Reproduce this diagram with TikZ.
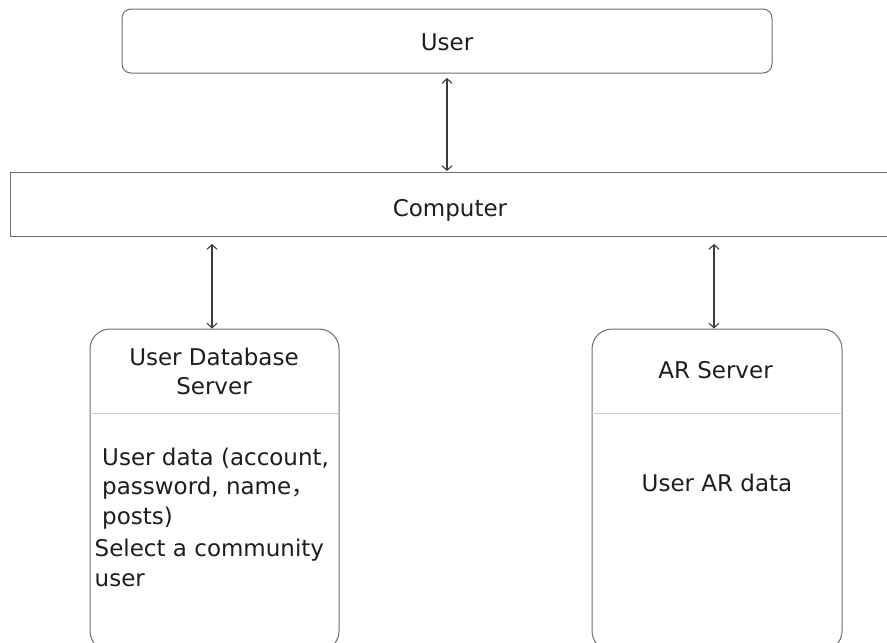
\documentclass[tikz,border=0pt]{standalone}
\usepackage{fontspec}
\setmainfont{DejaVu Sans}
\newfontfamily\cjk{Noto Sans CJK SC}
\usetikzlibrary{arrows.meta}
\definecolor{edgec}{HTML}{6E6E6E}
\definecolor{arrowc}{HTML}{3C3C3C}
\definecolor{divc}{HTML}{CFCFCF}
\definecolor{txtc}{HTML}{1E1E1E}
\begin{document}
\begin{tikzpicture}[x=1pt,y=-1pt,
  box/.style={draw=edgec, line width=1pt, fill=white, inner sep=0pt},
  lbl/.style={font=\fontsize{23}{30}\selectfont, text=txtc, inner sep=0pt, anchor=base},
  lblw/.style={lbl, anchor=base west},
  arr/.style={draw=arrowc, line width=1.1pt,
    {Straight Barb[length=4.5pt,width=10pt]}-{Straight Barb[length=4.5pt,width=10pt]}},
  divider/.style={draw=divc, line width=1pt}]
\useasboundingbox (0,0) rectangle (887,643);
\begin{scope}
\clip (0,0) rectangle (887,643);

% boxes
\node[box, rounded corners=9pt, minimum width=650pt, minimum height=64pt] (user) at (447,41) {};
\node[box, minimum width=880pt, minimum height=64pt] (computer) at (450,204) {};
\node[box, rounded corners=20pt, minimum width=249pt, minimum height=322pt] (db) at (214.5,490) {};
\node[box, rounded corners=20pt, minimum width=250pt, minimum height=322pt] (ar) at (717,490) {};

% compartment dividers
\coordinate (divy) at (0,413);
\draw[divider] ([xshift=0.5pt]db.west |- divy) -- ([xshift=-0.5pt]db.east |- divy);
\draw[divider] ([xshift=0.5pt]ar.west |- divy) -- ([xshift=-0.5pt]ar.east |- divy);

% labels
\node[lbl] (userlbl) at (447,50) {User};
\node[lbl] (complbl) at (450,216) {Computer};
\node[lbl] (dbt1) at (214,365) {User Database};
\node[lbl] (dbt2) at (214,394.5) {Server};
\node[lbl] (art) at (715.5,378) {AR Server};
\node[lbl] (arbody) at (717,491) {User AR data};

\node[lblw] (dbb1) at (102,465) {User data (account,};
\node[lblw] (dbb2) at (102,494.5) {password, name{\cjk ，}};
\node[lblw] (dbb3) at (102,524) {posts)};
\node[lblw] (dbb4) at (94.5,556) {Select a community};
\node[lblw] (dbb5) at (94.5,586) {user};

% connectors
\draw[arr, shorten <=4.5pt, shorten >=0.5pt] (user.south) -- (user.south |- computer.north);
\draw[arr, shorten <=7.5pt] ([xshift=-2.5pt]db.north |- computer.south) -- ([xshift=-2.5pt]db.north);
\draw[arr, shorten <=7.5pt] ([xshift=-3pt]ar.north |- computer.south) -- ([xshift=-3pt]ar.north);
\end{scope}
\end{tikzpicture}
\end{document}
